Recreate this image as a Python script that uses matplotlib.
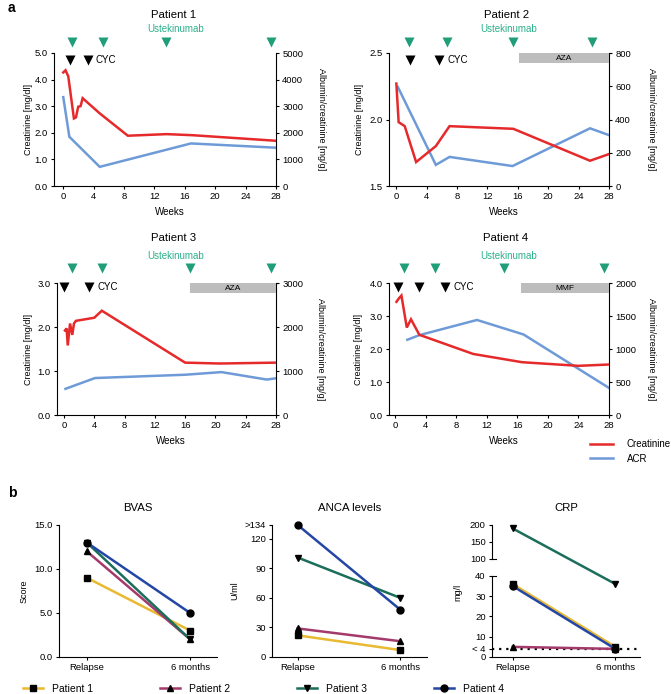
import matplotlib
matplotlib.use('Agg')
import matplotlib.pyplot as plt
import matplotlib.transforms as mtransforms
from matplotlib.lines import Line2D
import numpy as np

plt.rcParams['font.family'] = ['Liberation Sans', 'DejaVu Sans']
plt.rcParams['font.size'] = 6.5
plt.rcParams['axes.linewidth'] = 0.8
plt.rcParams['xtick.major.width'] = 0.8
plt.rcParams['ytick.major.width'] = 0.8
plt.rcParams['xtick.major.size'] = 2.5
plt.rcParams['ytick.major.size'] = 2.5
plt.rcParams['xtick.major.pad'] = 2
plt.rcParams['ytick.major.pad'] = 2
plt.rcParams['xtick.labelsize'] = 6.8
plt.rcParams['ytick.labelsize'] = 6.8

# ---- panel a : creatinine / ACR over weeks ----
p1_cre_wk = [0, 0.3, 0.66, 1.4, 1.67, 1.97, 2.28, 2.55, 4.8, 8.5, 13.6, 17, 28]
p1_cre = [4.27, 4.35, 4.12, 2.54, 2.58, 2.98, 3.0, 3.3, 2.73, 1.89, 1.95, 1.91, 1.70]
p1_acr_wk = [0, 0.8, 4.8, 16.8, 28]
p1_acr = [3340, 1850, 720, 1600, 1440]
p1_ust = [1.1, 5.2, 13.5, 27.4]
p1_cyc = [0.9, 3.2]

p2_cre_wk = [0, 0.3, 1.1, 2.6, 5.2, 7.0, 15.4, 25.5, 28]
p2_cre = [2.27, 1.98, 1.95, 1.68, 1.80, 1.95, 1.93, 1.69, 1.74]
p2_acr_wk = [0.2, 5.2, 7.0, 15.3, 25.5, 28]
p2_acr = [595, 127, 175, 120, 347, 306]
p2_ust = [1.7, 6.7, 15.3, 25.8]
p2_cyc = [1.8, 5.6]
p2_aza = (16.2, 28)

p3_cre_wk = [0.13, 0.35, 0.5, 0.8, 1.1, 1.32, 1.58, 4.0, 5.0, 16.0, 20.6, 28]
p3_cre = [1.92, 1.97, 1.58, 2.08, 1.82, 2.08, 2.14, 2.21, 2.37, 1.19, 1.17, 1.19]
p3_acr_wk = [0.2, 4.1, 16, 20.8, 26.8, 28]
p3_acr = [595, 840, 915, 975, 805, 835]
p3_ust = [1.06, 5.0, 16.65, 27.4]
p3_cyc = [0.04, 3.35]
p3_aza = (16.7, 28)

p4_cre_wk = [0.15, 0.45, 0.8, 1.5, 2.05, 3.15, 10.2, 16.6, 24, 28]
p4_cre = [3.43, 3.53, 3.62, 2.65, 2.9, 2.43, 1.85, 1.6, 1.49, 1.53]
p4_acr_wk = [1.57, 3.15, 10.7, 16.8, 28]
p4_acr = [1140, 1210, 1440, 1220, 410]
p4_ust = [1.14, 5.16, 14.26, 27.3]
p4_cyc = [0.4, 3.1, 6.5]
p4_mmf = (16.5, 28)

# ---- panel b : relapse vs 6 months ----
time_points = ['Relapse', '6 months']
patients = ['Patient 1', 'Patient 2', 'Patient 3', 'Patient 4']
bvas = [[9, 3], [12, 2], [13, 2], [13, 5]]
anca = [[22, 7], [29, 16], [101, 60], [134, 48]]
crp = [[36, 5], [5, 4], [190, 36], [35, 4]]

RED = '#e62a2b'
BLUE = '#6e9bd8'
GREEN = '#1f9e79'
pat_colors = ['#e8b931', '#a43a6c', '#1b6e5a', '#2447a6']
pat_markers = ['s', '^', 'v', 'o']

W, H = 671, 694
fig = plt.figure(figsize=(W / 100, H / 100), dpi=100)


def rect(x0, y0, x1, y1):
    # pixel box -> figure fraction
    return [x0 / W, 1 - y1 / H, (x1 - x0) / W, (y1 - y0) / H]


def patient_panel(box, title, cre_wk, cre, acr_wk, acr, ust, cyc, xleft,
                  ylim_l, yt_l, ylim_r, yt_r, fr, bar=None, bar_txt=''):
    ax = fig.add_axes(rect(*box))
    ax2 = ax.twinx()
    ax.set_zorder(ax2.get_zorder() + 1)  # red above blue
    ax.patch.set_visible(False)

    ax2.plot(acr_wk, acr, color=BLUE, lw=1.8, solid_joinstyle='miter')
    ax.plot(cre_wk, cre, color=RED, lw=1.8, solid_joinstyle='miter')

    ax.set_xlim(xleft, 28)
    ax.set_xticks(range(0, 29, 4))
    ax.set_ylim(*ylim_l)
    ax.set_yticks(yt_l)
    ax.yaxis.set_major_formatter('{x:.1f}')
    ax2.set_ylim(*ylim_r)
    ax2.set_yticks(yt_r)
    for a in (ax, ax2):
        a.spines['top'].set_visible(False)
    ax.spines['right'].set_visible(False)
    ax2.spines['left'].set_visible(False)
    ax2.spines['bottom'].set_visible(False)

    ax.set_xlabel('Weeks', fontsize=7)
    ax.xaxis.set_label_coords(0.52, -0.16)
    ax.set_ylabel('Creatinine [mg/dl]', va='center')
    ax.yaxis.set_label_coords(fr['yl'], 0.5)
    ax2.set_ylabel('Albumin/creatinine [mg/g]', rotation=270, va='center')
    ax2.yaxis.set_label_coords(fr['yr'], 0.5)

    trans = mtransforms.blended_transform_factory(ax.transData, ax.transAxes)
    ax.plot(ust, [fr['green']] * len(ust), 'v', color=GREEN, ms=6.5,
            mec='none', transform=trans, clip_on=False)
    ax.plot(cyc, [fr['black']] * len(cyc), 'v', color='black', ms=6.5,
            mec='none', transform=trans, clip_on=False)
    ax.annotate('CYC', (cyc[-1], fr['black']), xycoords=trans,
                xytext=(6, 0), textcoords='offset points', va='center',
                fontsize=7)
    ax.text(14.8, fr['ust'], 'Ustekinumab', color='#2bb08a', fontsize=7,
            ha='center', va='center', transform=trans)
    ax.text(14.5, fr['title'], title, fontsize=8.2, ha='center',
            va='center', transform=trans)
    if bar is not None:
        ax.axvspan(bar[0], bar[1], ymin=0.925, ymax=1.0, color='#bdbdbd',
                   lw=0, zorder=0)
        ax.text((bar[0] + bar[1]) / 2, 0.962, bar_txt, fontsize=6,
                ha='center', va='center', transform=trans)
    return ax


fr_top = dict(title=1.286, ust=1.178, green=1.085, black=0.947, yl=-0.117, yr=1.203)
fr_top2 = dict(fr_top, yl=-0.135, yr=1.194)
fr_mid = dict(title=1.339, ust=1.205, green=1.111, black=0.972, yl=-0.131, yr=1.204)
fr_mid2 = dict(fr_mid, yl=-0.14, yr=1.194)

patient_panel((54, 53, 276, 186), 'Patient 1', p1_cre_wk, p1_cre, p1_acr_wk,
              p1_acr, p1_ust, p1_cyc, -1.22, (0, 5), np.arange(0, 5.1, 1),
              (0, 5000), range(0, 5001, 1000), fr_top)
patient_panel((389, 53, 609, 186), 'Patient 2', p2_cre_wk, p2_cre, p2_acr_wk,
              p2_acr, p2_ust, p2_cyc, -0.97, (1.5, 2.5), [1.5, 2.0, 2.5],
              (0, 800), range(0, 801, 200), fr_top2, p2_aza, 'AZA')
patient_panel((57, 283, 276, 415), 'Patient 3', p3_cre_wk, p3_cre, p3_acr_wk,
              p3_acr, p3_ust, p3_cyc, -0.92, (0, 3), np.arange(0, 3.1, 1),
              (0, 3000), range(0, 3001, 1000), fr_mid, p3_aza, 'AZA')
patient_panel((389, 283, 609, 415), 'Patient 4', p4_cre_wk, p4_cre, p4_acr_wk,
              p4_acr, p4_ust, p4_cyc, -0.83, (0, 4), np.arange(0, 4.1, 1),
              (0, 2000), range(0, 2001, 500), fr_mid2, p4_mmf, 'MMF')

# creatinine / ACR legend
leg_a = [Line2D([], [], color=RED, lw=1.8), Line2D([], [], color=BLUE, lw=1.8)]
fig.legend(leg_a, ['Creatinine', 'ACR'], loc='upper left',
           bbox_to_anchor=(590 / W, 1 - 439 / H), frameon=False, fontsize=7,
           handlelength=2.4, handletextpad=1.4, labelspacing=0.5,
           borderpad=0, borderaxespad=0)


# ---- panel b ----
def style_b(ax, title, ylabel, xleft, xright):
    ax.set_xlim(xleft, xright)
    ax.set_xticks([0, 1])
    ax.set_xticklabels(time_points)
    ax.spines['top'].set_visible(False)
    ax.spines['right'].set_visible(False)
    ax.set_ylabel(ylabel)
    ax.text(0.5, 1 + 17 / 132, title, fontsize=8.2, ha='center', va='center',
            transform=ax.transAxes)


def draw_pairs(ax, vals):
    for i in range(len(patients)):
        ax.plot([0, 1], vals[i], color=pat_colors[i], lw=1.8,
                marker=pat_markers[i], ms=5, mfc='black', mec='black',
                clip_on=False, zorder=3)


ax_b1 = fig.add_axes(rect(59, 525, 217, 657))
draw_pairs(ax_b1, bvas)
ax_b1.set_ylim(0, 15)
ax_b1.set_yticks([0, 5, 10, 15])
ax_b1.yaxis.set_major_formatter('{x:.1f}')
style_b(ax_b1, 'BVAS', 'Score', -0.27, 1.26)

ax_b2 = fig.add_axes(rect(272, 525, 427, 657))
draw_pairs(ax_b2, anca)
ax_b2.set_ylim(0, 134)
ax_b2.set_yticks([0, 30, 60, 90, 120, 134])
ax_b2.set_yticklabels(['0', '30', '60', '90', '120', '>134'])
style_b(ax_b2, 'ANCA levels', 'U/ml', -0.25, 1.26)


# broken CRP axis: 0-40 below, 100-200 compressed above
def crp_fwd(v):
    v = np.asarray(v, dtype=float)
    return np.where(v <= 40, v, np.where(v >= 100, 48.36 + (v - 100) * 0.1672,
                                         40 + (v - 40) * 8.36 / 60))


def crp_inv(u):
    u = np.asarray(u, dtype=float)
    return np.where(u <= 40, u, np.where(u >= 48.36, 100 + (u - 48.36) / 0.1672,
                                         40 + (u - 40) * 60 / 8.36))


ax_b3 = fig.add_axes(rect(492, 525, 640, 657))
ax_b3.set_yscale('function', functions=(crp_fwd, crp_inv))
draw_pairs(ax_b3, crp)
ax_b3.set_ylim(0, 200)
ax_b3.set_yticks([0, 4, 10, 20, 30, 40, 100, 150, 200])
ax_b3.set_yticklabels(['0', '< 4', '10', '20', '30', '40', '100', '150', '200'])
ax_b3.axhline(4, color='black', lw=1.6, ls=(0, (1, 2.2)), zorder=1)
style_b(ax_b3, 'CRP', 'mg/l', -0.2, 1.24)
ax_b3.spines['left'].set_bounds(0, 40)
tr3 = mtransforms.blended_transform_factory(ax_b3.transAxes, ax_b3.transData)
ax_b3.plot([0, 0], [100, 200], color='black', lw=0.8, transform=tr3, clip_on=False)
ax_b3.plot([0, 0.03], [40, 40], color='black', lw=0.8, transform=tr3, clip_on=False)
ax_b3.plot([0, 0.03], [100, 100], color='black', lw=0.8, transform=tr3, clip_on=False)
ax_b3.yaxis.set_label_coords(-0.2, 0.49)

# patient legend along the bottom
leg_x = [23, 160, 297, 434]
for i in range(len(patients)):
    h = Line2D([], [], color=pat_colors[i], lw=1.8, marker=pat_markers[i],
               ms=5, mfc='black', mec='black')
    fig.legend([h], [patients[i]], loc='center left',
               bbox_to_anchor=(leg_x[i] / W, 1 - 689 / H), frameon=False,
               fontsize=7.5, handlelength=1.9, handletextpad=0.9,
               borderpad=0, borderaxespad=0)

fig.text(8 / W, 1 - 8 / H, 'a', fontsize=10, fontweight='bold', va='center')
fig.text(8 / W, 1 - 493 / H, 'b', fontsize=10, fontweight='bold', va='center')

fig.savefig('out.png', dpi=100)
